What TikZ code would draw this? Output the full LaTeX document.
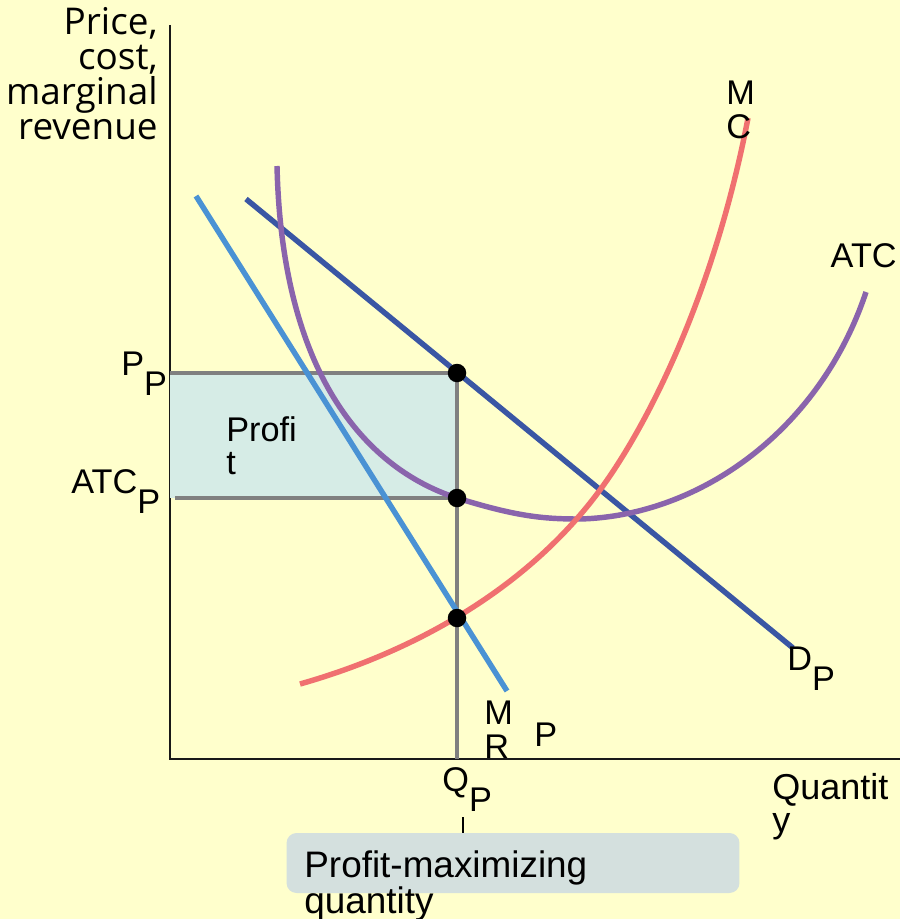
\documentclass[tikz,border=0pt]{standalone}
\usepackage{fontspec}
\setmainfont{Liberation Sans}
\newfontfamily\axisfont{Open Sans}
\usetikzlibrary{positioning, calc}
\definecolor{bgyellow}   {RGB}{255,255,204}
\definecolor{profitfill} {RGB}{214,236,230}
\definecolor{calloutfill}{RGB}{212,224,222}
\definecolor{mccol}      {RGB}{240,112,112}
\definecolor{atccol}     {RGB}{138,100,172}
\definecolor{dcol}       {RGB}{58,86,164}
\definecolor{mrcol}      {RGB}{74,146,212}
\definecolor{guidegray}  {RGB}{128,128,128}
\definecolor{axisblack}  {RGB}{25,25,25}

\tikzset{
  curve/.style={line width=3.1pt},
  guide/.style={guidegray, line width=1.8pt},
  eqdot/.style={circle, fill=black, inner sep=0pt, minimum size=0.37cm},
  lbl/.style={inner sep=0pt, align=left,
              font=\fontsize{19.5pt}{19pt}\selectfont},
  calloutbox/.style={fill=calloutfill, rounded corners=0.2cm, inner sep=0pt}
}
\newcommand{\lowsub}[1]{\raisebox{-0.6em}{#1}}

\begin{document}
\begin{tikzpicture}[x=0.02cm, y=-0.02cm]
  \fill[bgyellow] (0,0) rectangle (900,919);
  \useasboundingbox (0,0) rectangle (900,919);

  % axes
  \coordinate (origin) at (170,759);
  \coordinate (yTop) at (170,25);
  \coordinate (xEnd) at (900,759);
  \draw[axisblack, line width=1.1pt] (yTop) -- (origin) -- (xEnd);

  % equilibrium points
  \coordinate (eqP) at (457,373);
  \coordinate (eqATC) at (457,498);
  \coordinate (eqMC) at (457,618);

  % profit area and guides
  \fill[profitfill] (170,373) rectangle (eqATC);
  \draw[guide] (170,373) -- (eqP) -- (eqP |- origin);
  \draw[guide] (175,498) -- (eqATC);

  % curves
  \draw[curve, mrcol] (196,196) -- (507,691);
  \draw[curve, dcol] (246,199) -- (793,648);
  \draw[curve, atccol] (277,166) .. controls (282,380) and (370,470) .. (eqATC)
        .. controls (518,517) and (545,519) .. (580,519)
        .. controls (700,516) and (820,430) .. (866,292);
  \draw[curve, mccol] (300,684) .. controls (420,650) and (530,585) .. (600,490)
        .. controls (650,422) and (715,290) .. (748,118);

  \node[eqdot] (dotP) at (eqP) {};
  \node[eqdot] (dotATC) at (eqATC) {};
  \node[eqdot] (dotMC) at (eqMC) {};

  % labels
  \node[inner sep=0pt, anchor=north east, align=right,
        font=\axisfont\fontsize{21pt}{20pt}\selectfont] (yLabel) at (158,7)
        {Price,\\cost,\\marginal\\revenue};
  \node[lbl, anchor=base west] (pLabel) at (121,375) {P\lowsub{P}};
  \node[lbl, anchor=base west] (atcLabel) at (71,493) {ATC\lowsub{P}};
  \node[lbl, anchor=north west] (profitLabel) at (226,416) {Profi\\t};
  \node[lbl, anchor=north west] (mcLabel) at (726,81) {M\\C};
  \node[lbl, anchor=base east] (atcCurve) at (897,267) {ATC};
  \node[lbl, anchor=base west] (dLabel) at (787,670) {D\lowsub{P}};
  \node[lbl, anchor=north west] (mrLabel) at (484,701) {M\\R};
  \node[lbl, anchor=base west] (mrSub) at (534,746) {P};
  \node[lbl, anchor=base west] (qLabel) at (442,791) {Q\lowsub{P}};
  \node[lbl, anchor=north west, font=\fontsize{20.5pt}{19pt}\selectfont]
        (xLabel) at (772,773) {Quantit\\y};

  % callout
  \node[calloutbox, minimum width=9.06cm, minimum height=1.2cm] (callout)
        at (513,863) {};
  \node[inner sep=0pt, anchor=north west, align=left,
        font=\fontsize{21pt}{16.5pt}\selectfont] (calloutText) at (304,850)
        {Profit-maximizing\\quantity};
  \coordinate (tickTop) at (463,817);
  \draw[line width=0.8pt] (tickTop) -- (tickTop |- callout.north);
\end{tikzpicture}
\end{document}
